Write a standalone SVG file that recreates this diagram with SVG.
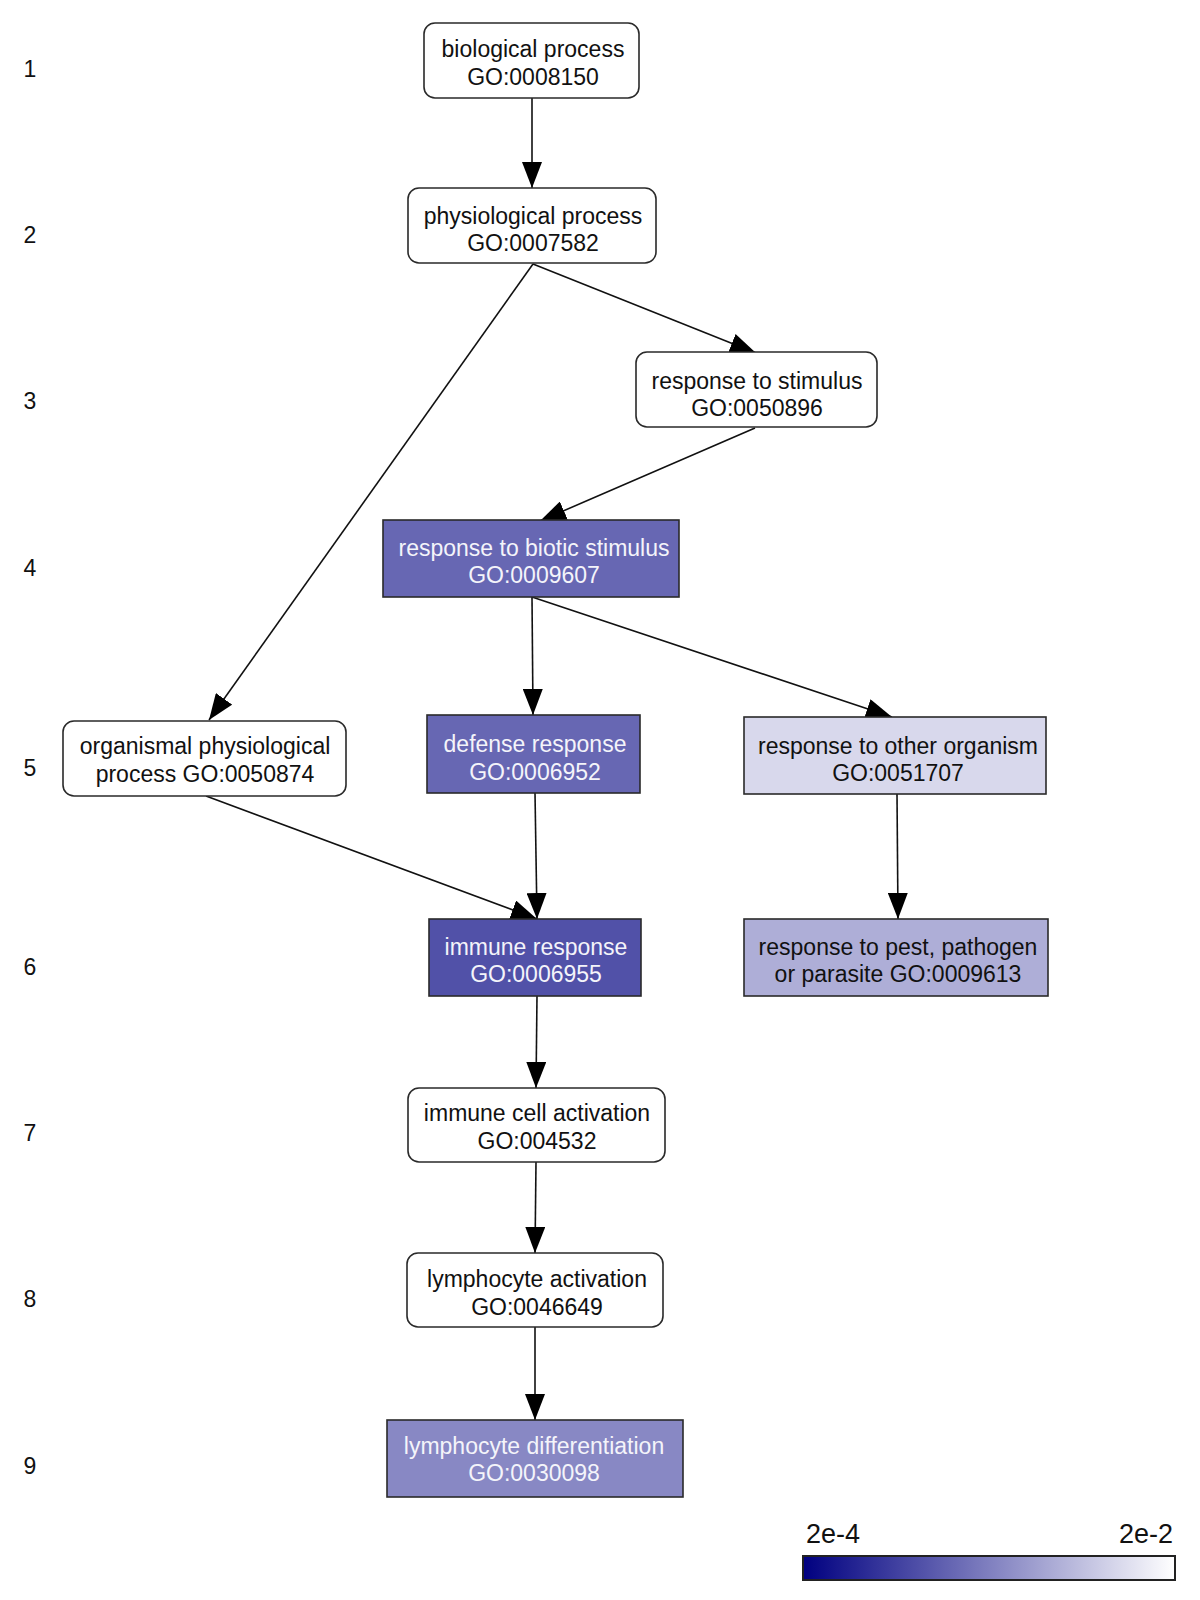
<svg xmlns="http://www.w3.org/2000/svg" width="1200" height="1600" viewBox="0 0 1200 1600">
<style>
  .box { stroke: #2a2a2a; stroke-width: 1.6; }
  .t { font-family: "Liberation Sans", Arial, sans-serif; font-size: 23px; text-anchor: middle; fill: #111; }
  .tw { fill: #f4f4fa; }
  .lvl { font-family: "Liberation Sans", Arial, sans-serif; font-size: 23px; text-anchor: middle; fill: #111; }
  .edge { stroke: #111; stroke-width: 1.6; fill: none; marker-end: url(#ah); }
</style>
<defs>
  <marker id="ah" viewBox="0 0 26 20" refX="26" refY="10" markerWidth="26" markerHeight="20" markerUnits="userSpaceOnUse" orient="auto">
    <path d="M0,0 L26,10 L0,20 Z" fill="#000"/>
  </marker>
  <linearGradient id="grad" x1="0" y1="0" x2="1" y2="0">
    <stop offset="0" stop-color="#000080"/>
    <stop offset="1" stop-color="#ffffff"/>
  </linearGradient>
</defs>
<rect width="1200" height="1600" fill="#fff"/>

<g id="levels">
  <text class="lvl" x="30" y="77">1</text>
  <text class="lvl" x="30" y="243">2</text>
  <text class="lvl" x="30" y="409">3</text>
  <text class="lvl" x="30" y="576">4</text>
  <text class="lvl" x="30" y="776">5</text>
  <text class="lvl" x="30" y="975">6</text>
  <text class="lvl" x="30" y="1141">7</text>
  <text class="lvl" x="30" y="1307">8</text>
  <text class="lvl" x="30" y="1474">9</text>
</g>

<g id="connectors">
  <path class="edge" d="M532,98 L532,188"/>
  <path class="edge" d="M533,264 L756,353"/>
  <path class="edge" d="M533,264 L209,720"/>
  <path class="edge" d="M755,428 L540,521"/>
  <path class="edge" d="M532,597 L533,715"/>
  <path class="edge" d="M532,597 L892,717"/>
  <path class="edge" d="M206,796 L537,919"/>
  <path class="edge" d="M535,793 L537,919"/>
  <path class="edge" d="M897,794 L898,919"/>
  <path class="edge" d="M537,996 L536,1088"/>
  <path class="edge" d="M536,1162 L535,1253"/>
  <path class="edge" d="M535,1327 L535,1420"/>
</g>

<g id="n_biological_process">
  <rect class="box" x="424" y="23" width="215" height="75" rx="11" fill="#fff"/>
  <text class="t" x="533" y="57">biological process</text>
  <text class="t" x="533" y="85">GO:0008150</text>
</g>
<g id="n_physiological_process">
  <rect class="box" x="408" y="188" width="248" height="75" rx="11" fill="#fff"/>
  <text class="t" x="533" y="224">physiological process</text>
  <text class="t" x="533" y="251">GO:0007582</text>
</g>
<g id="n_response_to_stimulus">
  <rect class="box" x="636" y="352" width="241" height="75" rx="11" fill="#fff"/>
  <text class="t" x="757" y="389">response to stimulus</text>
  <text class="t" x="757" y="416">GO:0050896</text>
</g>
<g id="n_response_to_biotic_stimulus">
  <rect class="box" x="383" y="520" width="296" height="77" fill="#6767b3"/>
  <text class="t tw" x="534" y="556">response to biotic stimulus</text>
  <text class="t tw" x="534" y="583">GO:0009607</text>
</g>
<g id="n_organismal_physiological_process">
  <rect class="box" x="63" y="721" width="283" height="75" rx="11" fill="#fff"/>
  <text class="t" x="205" y="754">organismal physiological</text>
  <text class="t" x="205" y="782">process GO:0050874</text>
</g>
<g id="n_defense_response">
  <rect class="box" x="427" y="715" width="213" height="78" fill="#6767b3"/>
  <text class="t tw" x="535" y="752">defense response</text>
  <text class="t tw" x="535" y="780">GO:0006952</text>
</g>
<g id="n_response_to_other_organism">
  <rect class="box" x="744" y="717" width="302" height="77" fill="#d8d8ec"/>
  <text class="t" x="898" y="754">response to other organism</text>
  <text class="t" x="898" y="781">GO:0051707</text>
</g>
<g id="n_immune_response">
  <rect class="box" x="429" y="919" width="212" height="77" fill="#5151a8"/>
  <text class="t tw" x="536" y="955">immune response</text>
  <text class="t tw" x="536" y="982">GO:0006955</text>
</g>
<g id="n_response_to_pest">
  <rect class="box" x="744" y="919" width="304" height="77" fill="#aeaed7"/>
  <text class="t" x="898" y="955">response to pest, pathogen</text>
  <text class="t" x="898" y="982">or parasite GO:0009613</text>
</g>
<g id="n_immune_cell_activation">
  <rect class="box" x="408" y="1088" width="257" height="74" rx="11" fill="#fff"/>
  <text class="t" x="537" y="1121">immune cell activation</text>
  <text class="t" x="537" y="1149">GO:004532</text>
</g>
<g id="n_lymphocyte_activation">
  <rect class="box" x="407" y="1253" width="256" height="74" rx="11" fill="#fff"/>
  <text class="t" x="537" y="1287">lymphocyte activation</text>
  <text class="t" x="537" y="1315">GO:0046649</text>
</g>
<g id="n_lymphocyte_differentiation">
  <rect class="box" x="387" y="1420" width="296" height="77" fill="#8888c4"/>
  <text class="t tw" x="534" y="1454">lymphocyte differentiation</text>
  <text class="t tw" x="534" y="1481">GO:0030098</text>
</g>

<g id="legend">
  <text x="806" y="1543" font-family="Liberation Sans, Arial, sans-serif" font-size="27" fill="#111">2e-4</text>
  <text x="1173" y="1543" font-family="Liberation Sans, Arial, sans-serif" font-size="27" fill="#111" text-anchor="end">2e-2</text>
  <rect x="803" y="1556" width="372" height="24" fill="url(#grad)" stroke="#222" stroke-width="2"/>
</g>
</svg>
